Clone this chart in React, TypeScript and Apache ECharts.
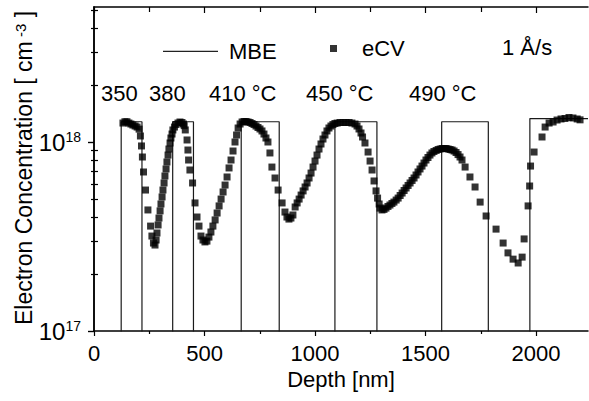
import React, { useEffect, useRef } from 'react';
import * as echarts from 'echarts';

// eCV measured profile: depth (nm) and electron concentration (units of 1e18 cm^-3)
const UNIT = 1e18;
const depth = [
  131, 140, 149, 158, 167, 176, 186, 195, 204,
  210, 215, 219, 224, 233, 244, 256, 262, 269,
  276, 281, 285, 290, 294, 299, 303, 308, 312, 317, 321, 326, 330, 335, 339, 344, 348, 353, 357, 364, 371, 380, 389, 398, 405, 408,
  413, 421, 425, 428, 434, 446, 457, 466, 475,
  484, 493, 502, 511, 520, 529, 538, 548, 557, 566, 575, 584, 593, 602, 611, 620, 629, 638, 645, 652, 661, 670, 679, 688, 697, 706, 715, 724, 733, 742, 751, 760, 769, 778,
  787, 796, 805, 819, 833, 851, 864, 873, 882, 891, 900,
  910, 919, 928, 937, 946, 955, 964, 973, 982, 991, 1000, 1009, 1018, 1027, 1036, 1045, 1054, 1063, 1072, 1081, 1090, 1100, 1113, 1127, 1140, 1154, 1167, 1181, 1190, 1199, 1208, 1215,
  1226, 1240, 1249, 1258, 1267, 1276, 1283, 1290, 1294, 1303, 1312, 1321, 1330, 1339, 1348, 1357, 1367, 1376, 1385, 1394, 1403, 1412, 1421, 1430, 1439, 1448, 1457, 1466, 1475, 1484, 1493, 1502, 1511, 1520, 1529, 1538, 1548, 1557, 1566, 1575, 1584, 1593, 1602, 1611, 1620, 1629, 1638, 1647, 1656,
  1665, 1679, 1701, 1724, 1747, 1774, 1819, 1851, 1873, 1896, 1919, 1937, 1946, 1964, 1971, 1975, 1991, 2027, 2041, 2059, 2077, 2095, 2113, 2131, 2149, 2167, 2186, 2199,
];
const concE18 = [
  1.26, 1.28, 1.28, 1.26, 1.245, 1.23, 1.215, 1.2, 1.17,
  1.076, 0.953, 0.833, 0.694, 0.557, 0.437, 0.359, 0.318, 0.292,
  0.285, 0.303, 0.33, 0.364, 0.396, 0.432, 0.47, 0.512, 0.557, 0.607, 0.661, 0.72, 0.784, 0.853, 0.918, 0.988, 1.05, 1.102, 1.158, 1.2, 1.237, 1.26, 1.276, 1.268, 1.245, 1.22,
  1.158, 1.025, 0.907, 0.803, 0.711, 0.607, 0.476, 0.401, 0.359,
  0.318, 0.303, 0.296, 0.299, 0.314, 0.334, 0.359, 0.387, 0.421, 0.459, 0.499, 0.544, 0.592, 0.653, 0.729, 0.803, 0.896, 1.0, 1.089, 1.186, 1.245, 1.276, 1.284, 1.284, 1.276, 1.268, 1.253, 1.237, 1.215, 1.193, 1.172, 1.144, 1.102, 1.05,
  1.0, 0.875, 0.737, 0.645, 0.557, 0.476, 0.426, 0.401, 0.391, 0.396, 0.411,
  0.453, 0.476, 0.499, 0.524, 0.551, 0.578, 0.607, 0.645, 0.685, 0.737, 0.793, 0.853, 0.918, 0.976, 1.037, 1.089, 1.144, 1.186, 1.215, 1.237, 1.253, 1.26, 1.268, 1.268, 1.268, 1.268, 1.26, 1.245, 1.215, 1.172, 1.116, 1.063,
  0.988, 0.885, 0.793, 0.711, 0.622, 0.551, 0.505, 0.47, 0.447, 0.437, 0.44, 0.447, 0.456, 0.464, 0.473, 0.481, 0.493, 0.505, 0.521, 0.537, 0.554, 0.571, 0.589, 0.607, 0.626, 0.645, 0.669, 0.694, 0.72, 0.746, 0.774, 0.803, 0.828, 0.853, 0.875, 0.891, 0.902, 0.913, 0.918, 0.924, 0.924, 0.924, 0.918, 0.913, 0.907, 0.896, 0.88, 0.858, 0.833,
  0.803, 0.737, 0.653, 0.578, 0.481, 0.406, 0.346, 0.292, 0.259, 0.24, 0.229, 0.246, 0.307, 0.459, 0.585, 0.746, 0.885, 1.063, 1.2, 1.26, 1.276, 1.307, 1.324, 1.332, 1.348, 1.34, 1.324, 1.31,
];

// MBE nominal doping profile (step function, low level is below the axis)
const mbeDepth = [123, 123, 217, 217, 356, 356, 450, 450, 666, 666, 838, 838, 1090, 1090, 1280, 1280, 1573, 1573, 1784, 1784, 1972, 1972, 2235];
const mbeConcE18 = [0.01, 1.28, 1.28, 0.01, 0.01, 1.28, 1.28, 0.01, 0.01, 1.28, 1.28, 0.01, 0.01, 1.28, 1.28, 0.01, 0.01, 1.28, 1.28, 0.01, 0.01, 1.33, 1.33];

const xMajorTicks = [0, 500, 1000, 1500, 2000];
const xMinorTicks = [250, 750, 1250, 1750];
const yMajorTicks = [1e17, 1e18];
const yMinorTicks = [2e17, 3e17, 4e17, 5e17, 6e17, 7e17, 8e17, 9e17, 2e18, 3e18, 4e18, 5e18];
const tempLabels = ['350', '380', '410 °C', '450 °C', '490 °C'];
const rateLabel = '1 Å/s';
const seriesNames = ['MBE', 'eCV'];
const xTitle = 'Depth [nm]';
const yTitle = '{t|Electron Concentration [ cm}{s| -3}{t| ]}';

const FONT = '"Liberation Sans", Arial, Helvetica, sans-serif';
const X_MIN = 0;
const X_MAX = 2235;
const Y_MIN = 1e17;
const Y_MAX = 5.18e18;

export default function App() {
  const ref = useRef<HTMLDivElement>(null);
  useEffect(() => {
    if (!ref.current) return;
    const chart = echarts.init(ref.current, null, { renderer: 'svg' });
    const ecvData = depth.map((d, i) => [d, concE18[i] * UNIT]);
    const mbeData = mbeDepth.map((d, i) => [d, mbeConcE18[i] * UNIT]);
    const lineStyle = { color: '#000', width: 1.5 };
    const tickStyle = { color: '#000', width: 1.2 };
    const txt = { color: '#000', fontFamily: FONT };
    const annot = (text: string, x: number, y: number) => ({
      type: 'text', x, y,
      style: { text, fontSize: 22, fontFamily: FONT, fill: '#000', verticalAlign: 'middle' },
    });

    const xBase = { type: 'value', min: X_MIN, max: X_MAX, splitLine: { show: false }, gridIndex: 0 };
    const yBase = { type: 'log', logBase: 10, min: Y_MIN, max: Y_MAX, splitLine: { show: false }, gridIndex: 0 };

    const option: any = {
      animation: false,
      backgroundColor: '#fff',
      grid: { left: 94, right: 1, top: 7, bottom: 70, containLabel: false, outerBoundsMode: 'none' },
      legend: [
        {
          data: [{ name: seriesNames[0], icon: 'rect' }], left: 163, top: 40.4, padding: 0,
          itemWidth: 55, itemHeight: 1.2, selectedMode: false,
          itemStyle: { color: '#222' },
          textStyle: { ...txt, fontSize: 22, padding: [0, 0, 0, 6] },
        },
        {
          data: [{ name: seriesNames[1], icon: 'rect' }], left: 330, top: 37.5, padding: 0,
          itemWidth: 7, itemHeight: 7, selectedMode: false,
          textStyle: { ...txt, fontSize: 22, padding: [0, 0, 0, 20] },
        },
      ],
      xAxis: [
        {
          ...xBase, position: 'bottom',
          axisLine: { show: true, lineStyle },
          axisTick: { show: true, inside: false, length: 5, lineStyle: tickStyle, customValues: xMajorTicks },
          axisLabel: { show: true, margin: 11, fontSize: 22, ...txt, customValues: xMajorTicks, formatter: (v: number) => String(v) },
          name: xTitle, nameLocation: 'middle', nameGap: 37,
          nameTextStyle: { ...txt, fontSize: 22 },
        },
        {
          ...xBase, position: 'bottom',
          axisLine: { show: false },
          axisTick: { show: true, inside: false, length: 3, lineStyle: tickStyle, customValues: xMinorTicks },
          axisLabel: { show: false },
        },
        {
          ...xBase, position: 'top',
          axisLine: { show: true, lineStyle },
          axisTick: { show: true, inside: true, length: 6, lineStyle: tickStyle, customValues: xMajorTicks },
          axisLabel: { show: false },
        },
        {
          ...xBase, position: 'top',
          axisLine: { show: false },
          axisTick: { show: true, inside: true, length: 5, lineStyle: tickStyle, customValues: xMinorTicks },
          axisLabel: { show: false },
        },
      ],
      yAxis: [
        {
          ...yBase, position: 'left',
          axisLine: { show: true, lineStyle },
          axisTick: { show: true, inside: false, length: 6, lineStyle: tickStyle, customValues: yMajorTicks },
          axisLabel: {
            show: true, margin: 13, customValues: yMajorTicks,
            formatter: (v: number) => `{b|10}{s|${Math.round(Math.log10(v))}}`,
            rich: {
              b: { ...txt, fontSize: 24 },
              s: { ...txt, fontSize: 14, verticalAlign: 'top' },
            },
          },
        },
        {
          ...yBase, position: 'left',
          axisLine: { show: false },
          axisTick: { show: true, inside: true, length: 4, lineStyle: tickStyle, customValues: yMinorTicks },
          axisLabel: { show: false },
        },
        {
          ...yBase, position: 'right',
          axisLine: { show: true, lineStyle },
          axisTick: { show: true, inside: true, length: 6, lineStyle: tickStyle, customValues: yMajorTicks },
          axisLabel: { show: false },
        },
        {
          ...yBase, position: 'right',
          axisLine: { show: false },
          axisTick: { show: true, inside: true, length: 3, lineStyle: tickStyle, customValues: yMinorTicks },
          axisLabel: { show: false },
        },
      ],
      series: [
        {
          name: seriesNames[0], type: 'line', xAxisIndex: 0, yAxisIndex: 0,
          data: mbeData, symbol: 'none', showSymbol: false, clip: true,
          lineStyle: { color: '#1a1a1a', width: 1.2 }, itemStyle: { color: '#1a1a1a' },
          z: 2,
        },
        {
          name: seriesNames[1], type: 'scatter', xAxisIndex: 0, yAxisIndex: 0,
          data: ecvData, symbol: 'rect', symbolSize: 7,
          itemStyle: { color: '#000' }, z: 3,
        },
      ],
      graphic: [
        annot(tempLabels[0], 101, 93),
        annot(tempLabels[1], 149, 93),
        annot(tempLabels[2], 209, 93),
        annot(tempLabels[3], 306, 93),
        annot(tempLabels[4], 409, 93),
        annot(rateLabel, 502, 47),
        {
          type: 'text', x: 24, y: 168, rotation: Math.PI / 2,
          style: {
            text: yTitle, align: 'center', verticalAlign: 'middle', fill: '#000',
            fontFamily: FONT, fontSize: 23,
            rich: {
              t: { fontFamily: FONT, fontSize: 23, fill: '#000' },
              s: { fontFamily: FONT, fontSize: 15, fill: '#000', verticalAlign: 'top' },
            },
          },
        },
      ],
    };
    chart.setOption(option);
    return () => chart.dispose();
  }, []);
  return (
    <div
      ref={ref}
      style={{ position: 'absolute', left: 0, top: 0, width: 589, height: 401, background: '#fff' }}
    />
  );
}
